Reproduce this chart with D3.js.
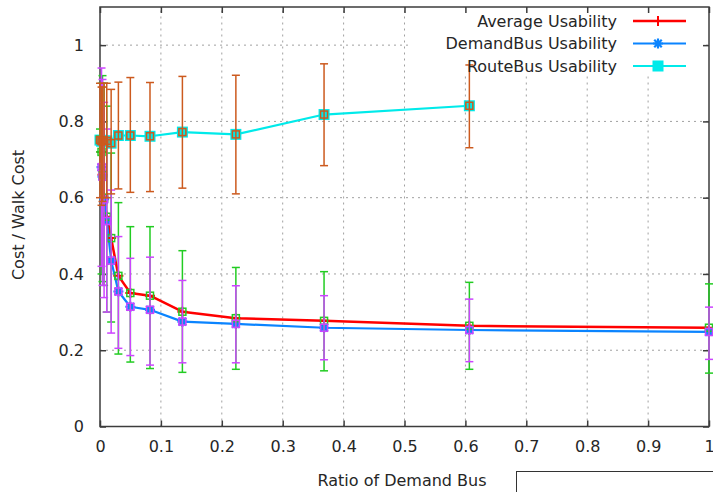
<!DOCTYPE html>
<html>
<head>
<meta charset="utf-8">
<script src="https://cdn.jsdelivr.net/npm/d3@7"></script>
<style>
  body { margin: 0; background: #fff; }
  text { font-family: "DejaVu Sans", sans-serif; fill: #262626; }
</style>
</head>
<body>
<script>
const width = 713;
const height = 492;
const margin = {left: 100, right: 4, top: 7, bottom: 65};

// ratio of demand bus
const ratios = [0, 0.0025, 0.0041, 0.0067, 0.0111, 0.0183, 0.0302, 0.0498, 0.0821, 0.1353, 0.2231, 0.3679, 0.6065, 1.0];

// average usability (mean, low, high)
const avgMean = [0.752, 0.720, 0.660, 0.600, 0.550, 0.494, 0.395, 0.350, 0.343, 0.301, 0.284, 0.277, 0.264, 0.259];
const avgLow  = [0.720, 0.400, 0.380, 0.370, 0.300, 0.274, 0.190, 0.169, 0.152, 0.142, 0.150, 0.146, 0.150, 0.140];
const avgHigh = [0.780, 0.900, 0.920, 0.900, 0.840, 0.717, 0.587, 0.524, 0.524, 0.461, 0.417, 0.406, 0.378, 0.374];

// demand bus usability (no value at ratio 0)
const demandMean = [null, 0.680, 0.655, 0.596, 0.539, 0.435, 0.354, 0.314, 0.306, 0.275, 0.269, 0.259, 0.253, 0.248];
const demandLow  = [null, 0.420, 0.370, 0.338, 0.300, 0.245, 0.205, 0.186, 0.161, 0.167, 0.167, 0.175, 0.170, 0.176];
const demandHigh = [null, 0.940, 0.910, 0.850, 0.780, 0.620, 0.498, 0.441, 0.444, 0.383, 0.369, 0.343, 0.334, 0.313];

// route bus usability (no value at ratio 1)
const routeMean = [0.751, 0.748, 0.750, 0.749, 0.749, 0.743, 0.763, 0.763, 0.761, 0.772, 0.766, 0.818, 0.841, null];
const routeLow  = [0.600, 0.580, 0.590, 0.600, 0.600, 0.610, 0.623, 0.614, 0.616, 0.625, 0.610, 0.684, 0.731, null];
const routeHigh = [0.900, 0.890, 0.890, 0.900, 0.900, 0.884, 0.903, 0.915, 0.902, 0.918, 0.921, 0.951, 0.948, null];

const xTicks = [0, 0.1, 0.2, 0.3, 0.4, 0.5, 0.6, 0.7, 0.8, 0.9, 1];
const yTicks = [0, 0.2, 0.4, 0.6, 0.8, 1];

const svg = d3.select('body')
  .append('svg')
  .attr('width', width)
  .attr('height', height);

const x = d3.scaleLinear().domain([0, 1]).range([margin.left, 709]);
const y = d3.scaleLinear().domain([0, 1.1]).range([426.5, margin.top]);

// grid
svg.append('g')
  .selectAll('line')
  .data(xTicks.slice(1, -1))
  .join('line')
  .attr('x1', d => x(d)).attr('x2', d => x(d))
  .attr('y1', y(0)).attr('y2', y(1.1))
  .attr('stroke', '#a0a0a0')
  .attr('stroke-dasharray', '2,4');

svg.append('g')
  .selectAll('line')
  .data(yTicks.slice(1))
  .join('line')
  .attr('x1', x(0)).attr('x2', x(1))
  .attr('y1', d => y(d)).attr('y2', d => y(d))
  .attr('stroke', '#a0a0a0')
  .attr('stroke-dasharray', '2,4');

// key background hides grid under the legend
svg.append('rect')
  .attr('x', 408).attr('y', margin.top + 1)
  .attr('width', 295).attr('height', 68)
  .attr('fill', '#fff');

// axes: ticks inward, mirrored
const axisColor = '#3c3c3c';
const xAxisB = d3.axisBottom(x).tickValues(xTicks).tickSize(-6).tickPadding(14).tickFormat(d3.format('~g'));
const xAxisT = d3.axisTop(x).tickValues(xTicks).tickSize(-6).tickFormat('');
const yAxisL = d3.axisLeft(y).tickValues(yTicks).tickSize(-6).tickPadding(16).tickFormat(d3.format('~g'));
const yAxisR = d3.axisRight(y).tickValues(yTicks).tickSize(-6).tickFormat('');

function styleAxis(g) {
  g.select('.domain').remove();
  g.selectAll('.tick line').attr('stroke', axisColor).attr('stroke-width', 1.5);
  g.selectAll('.tick text').style('font-size', '16px').attr('fill', '#262626');
}

svg.append('g').attr('transform', `translate(0,${y(0)})`).call(xAxisB).call(styleAxis);
svg.append('g').attr('transform', `translate(0,${y(1.1)})`).call(xAxisT).call(styleAxis);
svg.append('g').attr('transform', `translate(${x(0)},0)`).call(yAxisL).call(styleAxis);
svg.append('g').attr('transform', `translate(${x(1)},0)`).call(yAxisR).call(styleAxis);

svg.append('rect')
  .attr('x', x(0)).attr('y', y(1.1))
  .attr('width', x(1) - x(0)).attr('height', y(0) - y(1.1))
  .attr('fill', 'none')
  .attr('stroke', axisColor)
  .attr('stroke-width', 1.5);

// series
const series = [
  {name: 'Average Usability', mean: avgMean, low: avgLow, high: avgHigh, line: '#ff0000', err: '#22cc22', lw: 2.5},
  {name: 'DemandBus Usability', mean: demandMean, low: demandLow, high: demandHigh, line: '#0a84ff', err: '#cc44ff', lw: 2.2},
  {name: 'RouteBus Usability', mean: routeMean, low: routeLow, high: routeHigh, line: '#00eaea', err: '#cc5a1e', lw: 2.2}
];

const line = d3.line()
  .defined(d => d.v != null)
  .x(d => x(d.r))
  .y(d => y(d.v));

function rows(s) {
  return ratios.map((r, i) => ({r: r, v: s.mean[i], lo: s.low[i], hi: s.high[i]}))
    .filter(d => d.v != null);
}

// lines first
series.forEach(s => {
  svg.append('path')
    .datum(rows(s))
    .attr('d', line)
    .attr('fill', 'none')
    .attr('stroke', s.line)
    .attr('stroke-width', s.lw)
    .attr('stroke-linejoin', 'round');
});

function drawMarker(g, kind, cx, cy, color, size) {
  if (kind === 'plus') {
    g.append('path')
      .attr('d', `M${cx - size},${cy}H${cx + size}M${cx},${cy - size}V${cy + size}`)
      .attr('stroke', color).attr('stroke-width', 2);
  } else if (kind === 'star') {
    g.append('path')
      .attr('d', `M${cx - size},${cy}H${cx + size}M${cx},${cy - size}V${cy + size}` +
        `M${cx - size * 0.75},${cy - size * 0.75}L${cx + size * 0.75},${cy + size * 0.75}` +
        `M${cx - size * 0.75},${cy + size * 0.75}L${cx + size * 0.75},${cy - size * 0.75}`)
      .attr('stroke', color).attr('stroke-width', 2.2);
  } else if (kind === 'square') {
    g.append('rect')
      .attr('x', cx - size).attr('y', cy - size)
      .attr('width', size * 2).attr('height', size * 2)
      .attr('fill', color);
  }
}

const markerKinds = ['plus', 'star', 'square'];
const markerSizes = [5, 5, 5.5];

series.forEach((s, si) => {
  const g = svg.append('g');
  rows(s).forEach(d => {
    drawMarker(g, markerKinds[si], x(d.r), y(d.v), s.line, markerSizes[si]);
  });
});

// error bars with small open squares at the mean
series.forEach(s => {
  const g = svg.append('g').attr('stroke', s.err).attr('fill', 'none').attr('stroke-width', 1.5);
  rows(s).forEach(d => {
    const cx = x(d.r);
    g.append('line').attr('x1', cx).attr('x2', cx).attr('y1', y(d.lo)).attr('y2', y(d.hi));
    g.append('line').attr('x1', cx - 4).attr('x2', cx + 4).attr('y1', y(d.lo)).attr('y2', y(d.lo));
    g.append('line').attr('x1', cx - 4).attr('x2', cx + 4).attr('y1', y(d.hi)).attr('y2', y(d.hi));
    g.append('rect').attr('x', cx - 3.5).attr('y', y(d.v) - 3.5).attr('width', 7).attr('height', 7);
  });
});

// legend
const legend = svg.append('g');
series.forEach((s, i) => {
  const ly = 21 + i * 22.5;
  legend.append('text')
    .attr('x', 617).attr('y', ly)
    .attr('dy', '0.35em')
    .attr('text-anchor', 'end')
    .style('font-size', '16px')
    .text(s.name);
  legend.append('line')
    .attr('x1', 633).attr('x2', 686)
    .attr('y1', ly).attr('y2', ly)
    .attr('stroke', s.line).attr('stroke-width', s.lw);
  drawMarker(legend, markerKinds[i], 658, ly, s.line, markerSizes[i]);
});

// axis titles
svg.append('text')
  .attr('x', 402).attr('y', 486)
  .attr('text-anchor', 'middle')
  .style('font-size', '16px')
  .text('Ratio of Demand Bus');

svg.append('text')
  .attr('transform', 'translate(24,215) rotate(-90)')
  .attr('text-anchor', 'middle')
  .style('font-size', '16px')
  .text('Cost / Walk Cost');

// partial box at lower right
svg.append('rect')
  .attr('x', 516.5).attr('y', 471.5)
  .attr('width', 220).attr('height', 40)
  .attr('fill', 'none')
  .attr('stroke', '#333')
  .attr('stroke-width', 1);
</script>
</body>
</html>
